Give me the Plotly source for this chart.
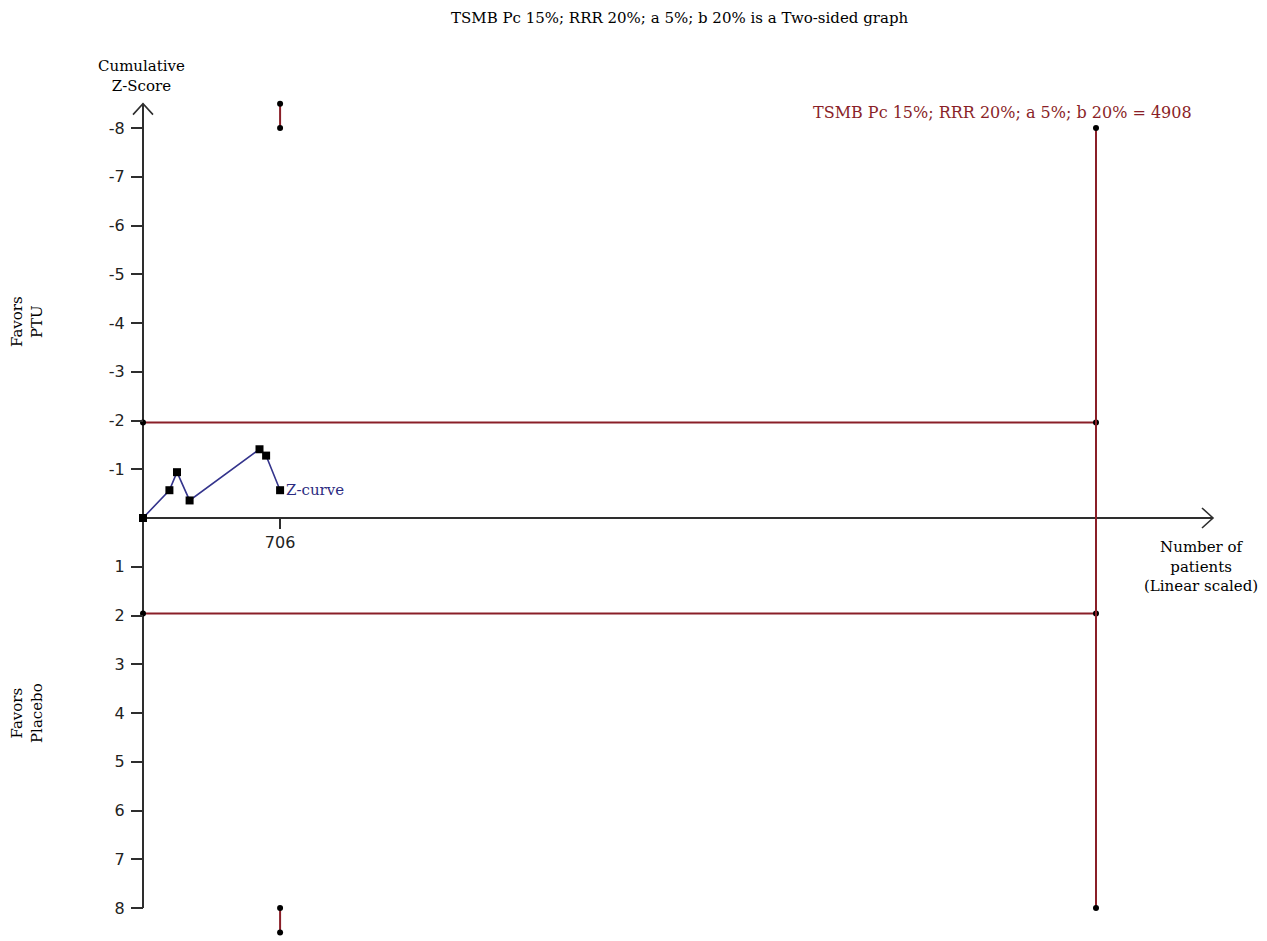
import plotly.graph_objects as go

# ---- data -------------------------------------------------------------
# cumulative Z-curve (number of patients, cumulative z)
z_patients = [0, 136, 175, 240, 600, 634, 706]
z_scores = [0, -0.57, -0.94, -0.36, -1.41, -1.28, -0.57]

# conventional boundaries and required information size
ris_n = 4908
boundary_z = [-1.96, 1.96]
z_limit = 8
z_outer = 8.5

y_tickvals = [-8, -7, -6, -5, -4, -3, -2, -1, 1, 2, 3, 4, 5, 6, 7, 8]
y_ticktext = ["-8", "-7", "-6", "-5", "-4", "-3", "-2", "-1",
              "1", "2", "3", "4", "5", "6", "7", "8"]
x_tickvals = [706]
x_ticktext = ["706"]

title_text = "TSMB Pc 15%; RRR 20%; a 5%; b 20% is a Two-sided graph"
ris_label = "TSMB Pc 15%; RRR 20%; a 5%; b 20% = 4908"

# ---- geometry ---------------------------------------------------------
W, H = 1267, 941
x_scale = (1096 - 143) / ris_n       # px per patient
z_scale = 48.75                      # px per z unit
x0_px, z0_px = 143, 518
x_range = [-x0_px / x_scale, (W - x0_px) / x_scale]
y_range = [(H - z0_px) / z_scale, -z0_px / z_scale]   # bottom, top (reversed)
x_axis_end = (1213 - x0_px) / x_scale

RED = "#8a1f28"
AXIS = "#2e2e2e"
SERIF = "DejaVu Serif"
SANS = "DejaVu Sans"
FS = 15


def paper_note(text, px, py, **kw):
    """Annotation placed by pixel position on the page."""
    d = dict(text=text, x=px / W, y=1 - py / H, xref="paper", yref="paper",
             xanchor="center", yanchor="middle", showarrow=False,
             font=dict(family=SERIF, size=FS, color="black"))
    d.update(kw)
    return d


fig = go.Figure()

# boundary lines (horizontal ±1.96)
for bz in boundary_z:
    fig.add_trace(go.Scatter(
        x=[0, ris_n], y=[bz, bz], mode="lines+markers",
        line=dict(color=RED, width=2),
        marker=dict(color="black", size=6, symbol="circle"),
        hoverinfo="skip", showlegend=False))

# required information size (vertical)
fig.add_trace(go.Scatter(
    x=[ris_n, ris_n], y=[-z_limit, z_limit], mode="lines+markers",
    line=dict(color=RED, width=2),
    marker=dict(color="black", size=6),
    hoverinfo="skip", showlegend=False))

# outer marks at the last analysis
last_n = z_patients[-1]
for sgn in (-1, 1):
    fig.add_trace(go.Scatter(
        x=[last_n, last_n], y=[sgn * z_limit, sgn * z_outer],
        mode="lines+markers",
        line=dict(color=RED, width=2),
        marker=dict(color="black", size=6),
        hoverinfo="skip", showlegend=False))

# Z-curve
fig.add_trace(go.Scatter(
    x=z_patients, y=z_scores, mode="lines+markers",
    line=dict(color="#34348c", width=1.6),
    marker=dict(color="black", size=8, symbol="square"),
    hoverinfo="skip", showlegend=False))

# axis lines
shapes = [
    dict(type="line", x0=0, x1=0, y0=-z_outer, y1=z_limit,
         xref="x", yref="y", line=dict(color=AXIS, width=2), layer="below"),
    dict(type="line", x0=0, x1=x_axis_end, y0=0, y1=0,
         xref="x", yref="y", line=dict(color=AXIS, width=2), layer="below"),
    # arrow heads
    dict(type="path", xref="x", yref="y", xsizemode="pixel", ysizemode="pixel",
         xanchor=0, yanchor=-z_outer, path="M -10,-11 L 0,0 L 10,-11",
         line=dict(color=AXIS, width=1.6)),
    dict(type="path", xref="x", yref="y", xsizemode="pixel", ysizemode="pixel",
         xanchor=x_axis_end, yanchor=0, path="M -11,10 L 0,0 L -11,-10",
         line=dict(color=AXIS, width=1.6)),
]

annotations = [
    paper_note(title_text, 680, 18),
    paper_note("Cumulative<br>Z-Score", 141, 76),
    paper_note("Number of<br>patients<br>(Linear scaled)", 1201, 566),
    paper_note("Favors<br>PTU", 27, 322, textangle=-90),
    paper_note("Favors<br>Placebo", 27, 713, textangle=-90),
    dict(text="Z-curve", x=z_patients[-1], y=z_scores[-1], xref="x", yref="y",
         xanchor="left", yanchor="middle", xshift=4, showarrow=False,
         font=dict(family=SERIF, size=FS, color="#2b2b80")),
    dict(text=ris_label, x=ris_n, y=-z_limit, xref="x", yref="y",
         xanchor="right", yanchor="bottom", xshift=98, yshift=4,
         showarrow=False, font=dict(family=SERIF, size=16, color=RED)),
]

fig.update_layout(
    width=W, height=H,
    margin=dict(l=0, r=0, t=0, b=0),
    paper_bgcolor="white", plot_bgcolor="white",
    shapes=shapes, annotations=annotations,
    xaxis=dict(range=x_range, anchor="free", position=(H - z0_px) / H,
               showgrid=False, zeroline=False, showline=False,
               tickvals=x_tickvals, ticktext=x_ticktext,
               ticks="outside", ticklen=10, tickwidth=1.5, tickcolor=AXIS,
               tickfont=dict(family=SANS, size=16, color="#222")),
    yaxis=dict(range=y_range, anchor="free", position=x0_px / W,
               showgrid=False, zeroline=False, showline=False,
               tickvals=y_tickvals, ticktext=y_ticktext,
               ticks="outside", ticklen=12, tickwidth=1.5, tickcolor=AXIS,
               ticklabelstandoff=3,
               tickfont=dict(family=SANS, size=16, color="#222")),
)

fig.write_html("out.html")
